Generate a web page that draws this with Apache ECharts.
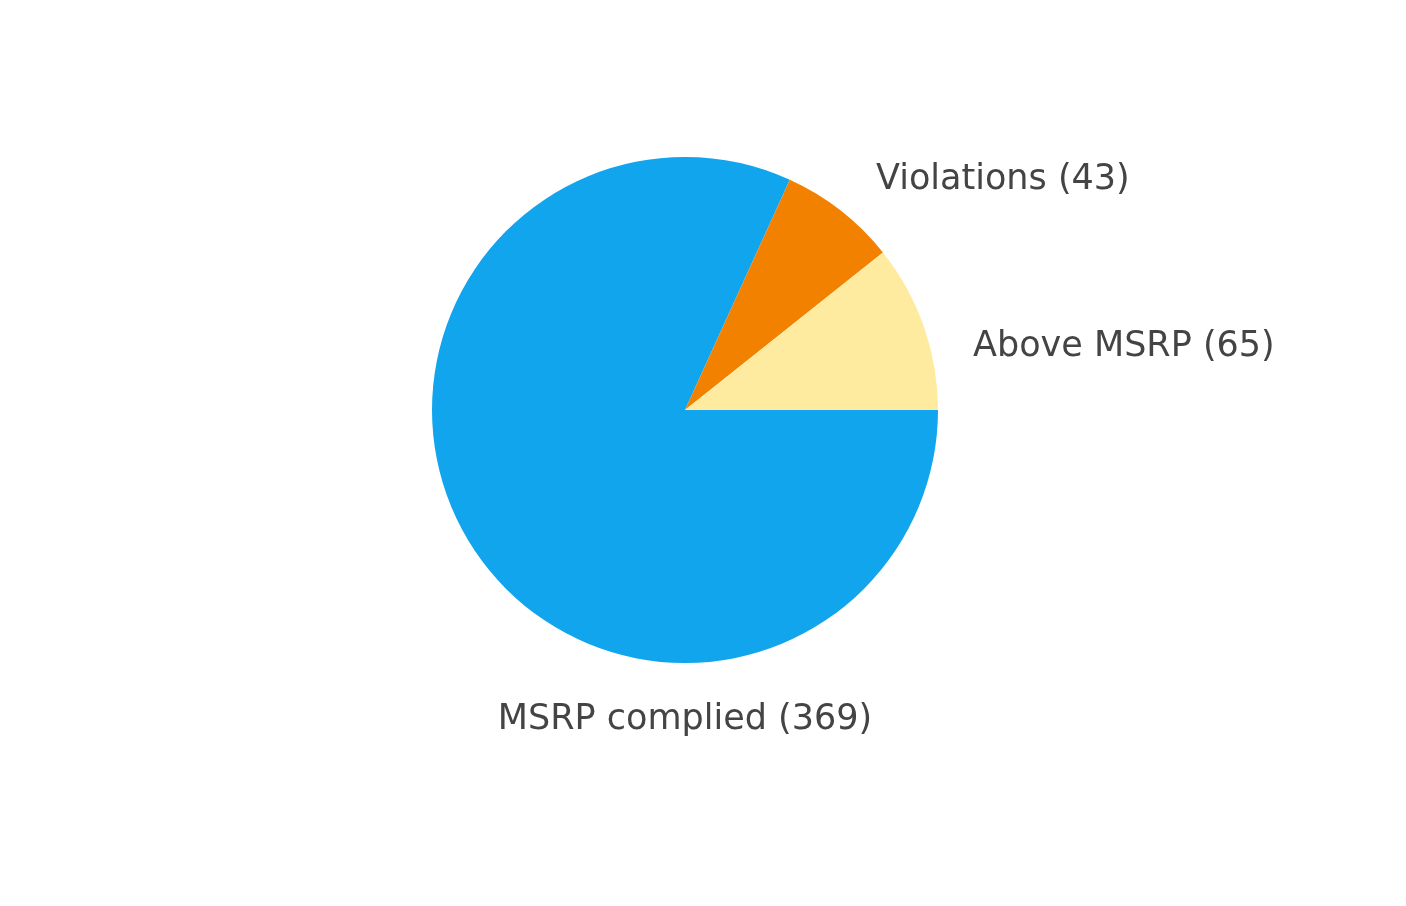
<!DOCTYPE html>
<html>
<head>
<meta charset="utf-8">
<script src="https://cdn.jsdelivr.net/npm/echarts@6/dist/echarts.min.js"></script>
<style>html,body{margin:0;padding:0;background:#fff}#c{width:1406px;height:906px}</style>
</head>
<body>
<div id="c"></div>
<script>
// Categories in drawing order (clockwise from 3 o'clock)
var categories = ['MSRP complied', 'Violations', 'Above MSRP'];
// Counts shown in the labels
var labelCounts = [369, 43, 65];
// Slice shares as drawn in the picture (percent of the circle)
var sliceShares = [81.8, 7.5, 10.7];
var colors = ['#11A5EE', '#F28100', '#FFEBA0'];

var chart = echarts.init(document.getElementById('c'), null, {renderer: 'canvas'});
var labelPos = [
  {x: 685, y: 720, align: 'center'},
  {x: 876, y: 180, align: 'left'},
  {x: 973, y: 347, align: 'left'}
];
chart.setOption({
  animation: false,
  series: [{
    type: 'pie',
    center: [685, 410],
    radius: 253,
    startAngle: 0,
    clockwise: true,
    silent: true,
    data: categories.map(function (c, i) {
      return {name: c, value: sliceShares[i], itemStyle: {color: colors[i]}};
    }),
    label: {
      show: true,
      position: 'outside',
      formatter: function (p) { return p.name + ' (' + labelCounts[p.dataIndex] + ')'; },
      fontFamily: 'DejaVu Sans',
      fontSize: 35,
      color: '#444444'
    },
    labelLine: {show: false},
    labelLayout: function (p) {
      var lp = labelPos[p.dataIndex];
      return {x: lp.x, y: lp.y, align: lp.align, verticalAlign: 'middle'};
    }
  }]
});
</script>
</body>
</html>
